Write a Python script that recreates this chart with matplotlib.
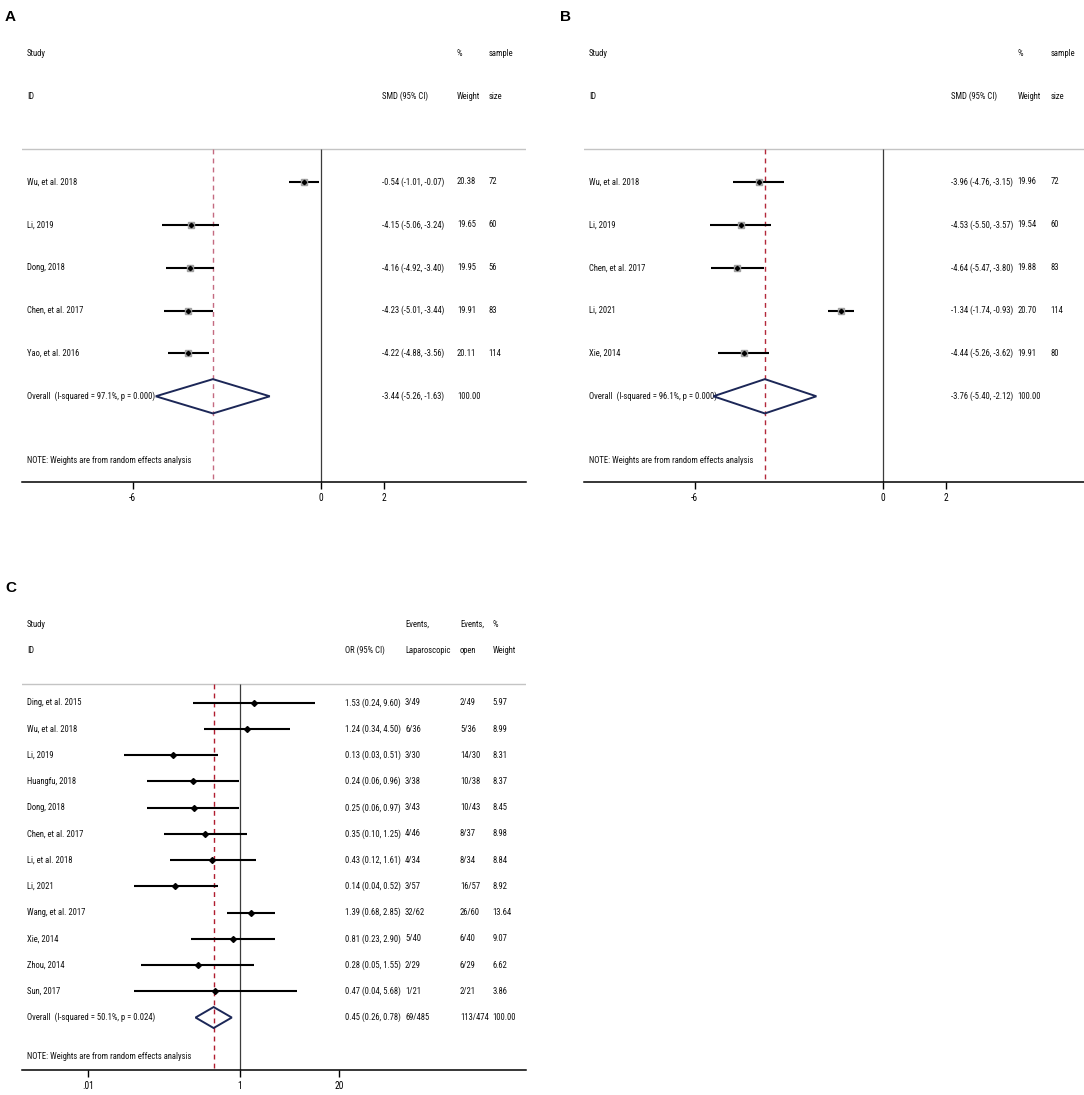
import matplotlib
matplotlib.use('Agg')
import matplotlib.pyplot as plt
from matplotlib.patches import Polygon
from matplotlib import font_manager
from matplotlib.font_manager import FontProperties
from matplotlib.textpath import TextPath

plt.rcParams['font.family'] = ['Liberation Sans', 'DejaVu Sans']
plt.rcParams['axes.unicode_minus'] = False

# --- Panel A: SMD ---
studies_a = ['Wu, et al. 2018', 'Li, 2019', 'Dong, 2018', 'Chen, et al. 2017', 'Yao, et al. 2016']
smd_a = [-0.54, -4.15, -4.16, -4.23, -4.22]
lo_a = [-1.01, -5.06, -4.92, -5.01, -4.88]
hi_a = [-0.07, -3.24, -3.40, -3.44, -3.56]
weight_a = [20.38, 19.65, 19.95, 19.91, 20.11]
size_a = [72, 60, 56, 83, 114]
overall_a = (-3.44, -5.26, -1.63)
isq_a, p_a = 97.1, 0.000
ticks_a = [-6, 0, 2]

# --- Panel B: SMD ---
studies_b = ['Wu, et al. 2018', 'Li, 2019', 'Chen, et al. 2017', 'Li, 2021', 'Xie, 2014']
smd_b = [-3.96, -4.53, -4.64, -1.34, -4.44]
lo_b = [-4.76, -5.50, -5.47, -1.74, -5.26]
hi_b = [-3.15, -3.57, -3.80, -0.93, -3.62]
weight_b = [19.96, 19.54, 19.88, 20.70, 19.91]
size_b = [72, 60, 83, 114, 80]
overall_b = (-3.76, -5.40, -2.12)
isq_b, p_b = 96.1, 0.000
ticks_b = [-6, 0, 2]

# --- Panel C: OR ---
studies_c = ['Ding, et al. 2015', 'Wu, et al. 2018', 'Li, 2019', 'Huangfu, 2018', 'Dong, 2018',
             'Chen, et al. 2017', 'Li, et al. 2018', 'Li, 2021', 'Wang, et al. 2017', 'Xie, 2014',
             'Zhou, 2014', 'Sun, 2017']
or_c = [1.53, 1.24, 0.13, 0.24, 0.25, 0.35, 0.43, 0.14, 1.39, 0.81, 0.28, 0.47]
lo_c = [0.24, 0.34, 0.03, 0.06, 0.06, 0.10, 0.12, 0.04, 0.68, 0.23, 0.05, 0.04]
hi_c = [9.60, 4.50, 0.51, 0.96, 0.97, 1.25, 1.61, 0.52, 2.85, 2.90, 1.55, 5.68]
events_lap = ['3/49', '6/36', '3/30', '3/38', '3/43', '4/46', '4/34', '3/57', '32/62', '5/40', '2/29', '1/21']
events_open = ['2/49', '5/36', '14/30', '10/38', '10/43', '8/37', '8/34', '16/57', '26/60', '6/40', '6/29', '2/21']
weight_c = [5.97, 8.99, 8.31, 8.37, 8.45, 8.98, 8.84, 8.92, 13.64, 9.07, 6.62, 3.86]
overall_c = (0.45, 0.26, 0.78)
total_lap, total_open = '69/485', '113/474'
isq_c, p_c = 50.1, 0.024
ticks_c = [0.01, 1, 20]
ticklabels_c = ['.01', '1', '20']


# narrow font like Stata's Arial Narrow, if one is installed
def pick_font():
    skip = ['bold', 'italic', 'oblique', 'light', 'thin', 'medium', 'black', 'semi', 'extra', 'heavy']
    prefs = ['liberationsansnarrow', 'arialnarrow', 'notosans-condensed', 'robotocondensed',
             'dejavusanscondensed', 'opensans-condensed', 'opensanscondensed']
    files = [f.fname for f in font_manager.fontManager.ttflist]
    for p in prefs:
        for fn in files:
            base = fn.split('/')[-1].lower()
            stem = base.rsplit('.', 1)[0]
            rest = stem.replace(p, '')
            if base.startswith(p) and not any(s in rest for s in skip):
                return FontProperties(fname=fn)
    return FontProperties(family='Liberation Sans')


FP = pick_font()
# size so that a row label is as wide as in the reference (~50 px)
_w = TextPath((0, 0), 'Wu, et al. 2018', size=10, prop=FP).get_extents().width * 100 / 72
FS = min(7.2, 10 * 50 / _w)
FP.set_size(FS)

W, H = 1084, 1095
fig = plt.figure(figsize=(W / 100, H / 100), dpi=100)


def px_axes(left, top, right, bottom):
    return fig.add_axes([left / W, 1 - bottom / H, (right - left) / W, (bottom - top) / H])


def ci_text(e, l, h):
    return f'{e:.2f} ({l:.2f}, {h:.2f})'


def put(ax, x, y, s):
    ax.text(x, y, s, transform=ax.get_yaxis_transform(), fontproperties=FP, va='center', ha='left',
            color='#111111')


def forest(ax, names, est, lo, hi, columns, col_x, headers, overall, overall_cols,
           isq, p, sep_y, dash_color, null_value, boxes):
    n = len(names)
    rows = list(range(1, n + 1))
    orow = n + 1
    bottom = n + 3
    ax.set_ylim(bottom, -2.5)
    for s in ['top', 'left', 'right']:
        ax.spines[s].set_visible(False)
    ax.spines['bottom'].set_linewidth(1.1)
    ax.set_yticks([])
    ax.tick_params(axis='x', direction='out', length=5, width=1, pad=3.2)
    ax.minorticks_off()
    for t in ax.get_xticklabels():
        t.set_fontproperties(FP)
        t.set_fontsize(FS + 0.6)

    ax.axhline(sep_y, color='#c4c4c4', lw=1.0)
    ax.vlines(null_value, sep_y, bottom, color='#3c3c3c', lw=0.9)
    ax.vlines(overall[0], sep_y, bottom, color=dash_color, lw=1.0, linestyles=(0, (3.5, 3)))

    ax.hlines(rows, lo, hi, color='black', lw=1.5, zorder=3)
    if boxes:
        ax.plot(est, rows, 's', color='#a0a0a0', ms=4.2, zorder=4)
        ax.plot(est, rows, 'D', color='black', ms=2.2, zorder=5)
    else:
        ax.plot(est, rows, 'D', color='black', ms=3.0, zorder=5)

    e, l, h = overall
    dia = Polygon([(l, orow), (e, orow - 0.4), (h, orow), (e, orow + 0.4)], closed=True,
                  fill=False, edgecolor='#1c2757', lw=1.4, zorder=4)
    ax.add_patch(dia)

    for r, name in zip(rows, names):
        put(ax, 0.01, r, name)
    for cx, col in zip(col_x, columns):
        for r, txt in zip(rows, col):
            put(ax, cx, r, txt)
    put(ax, 0.01, orow, f'Overall  (I-squared = {isq:.1f}%, p = {p:.3f})')
    for cx, txt in zip(col_x, overall_cols):
        put(ax, cx, orow, txt)
    put(ax, 0.01, n + 2.5, 'NOTE: Weights are from random effects analysis')

    for hrow, labels in zip([-2, -1], headers):
        put(ax, 0.01, hrow, labels[0])
        for cx, txt in zip(col_x, labels[1:]):
            put(ax, cx, hrow, txt)


# Panel A
axA = px_axes(22, 32, 526, 482)
axA.set_xlim(-9.52, 6.53)
axA.set_xticks(ticks_a)
forest(axA, studies_a, smd_a, lo_a, hi_a,
       [[ci_text(*t) for t in zip(smd_a, lo_a, hi_a)], [f'{w:.2f}' for w in weight_a], [str(s) for s in size_a]],
       [0.714, 0.863, 0.925],
       [['Study', '', '%', 'sample'], ['ID', 'SMD (95% CI)', 'Weight', 'size']],
       overall_a, [ci_text(*overall_a), '100.00', ''], isq_a, p_a, 0.23, '#c46a80', 0, True)

# Panel B
axB = px_axes(584, 32, 1088, 482)
axB.set_xlim(-9.52, 6.53)
axB.set_xticks(ticks_b)
forest(axB, studies_b, smd_b, lo_b, hi_b,
       [[ci_text(*t) for t in zip(smd_b, lo_b, hi_b)], [f'{w:.2f}' for w in weight_b], [str(s) for s in size_b]],
       [0.728, 0.86, 0.925],
       [['Study', '', '%', 'sample'], ['ID', 'SMD (95% CI)', 'Weight', 'size']],
       overall_b, [ci_text(*overall_b), '100.00', ''], isq_b, p_b, 0.23, '#b3283a', 0, True)

# Panel C
axC = px_axes(22, 611, 526, 1070)
axC.set_xscale('log')
axC.set_xlim(10 ** -2.868, 10 ** 3.763)
axC.set_xticks(ticks_c)
axC.set_xticklabels(ticklabels_c)
forest(axC, studies_c, or_c, lo_c, hi_c,
       [[ci_text(*t) for t in zip(or_c, lo_c, hi_c)], events_lap, events_open, [f'{w:.2f}' for w in weight_c]],
       [0.640, 0.760, 0.869, 0.934],
       [['Study', '', 'Events,', 'Events,', '%'], ['ID', 'OR (95% CI)', 'Laparoscopic', 'open', 'Weight']],
       overall_c, [ci_text(*overall_c), total_lap, total_open, '100.00'], isq_c, p_c, 0.3, '#b01c2e', 1, False)

for lab, x, y in [('A', 5, 17), ('B', 560, 17), ('C', 5, 588)]:
    fig.text(x / W, 1 - y / H, lab, fontsize=11, fontweight='bold', va='center', ha='left',
             family=['Liberation Sans', 'DejaVu Sans'])

fig.savefig('out.png', dpi=100)
